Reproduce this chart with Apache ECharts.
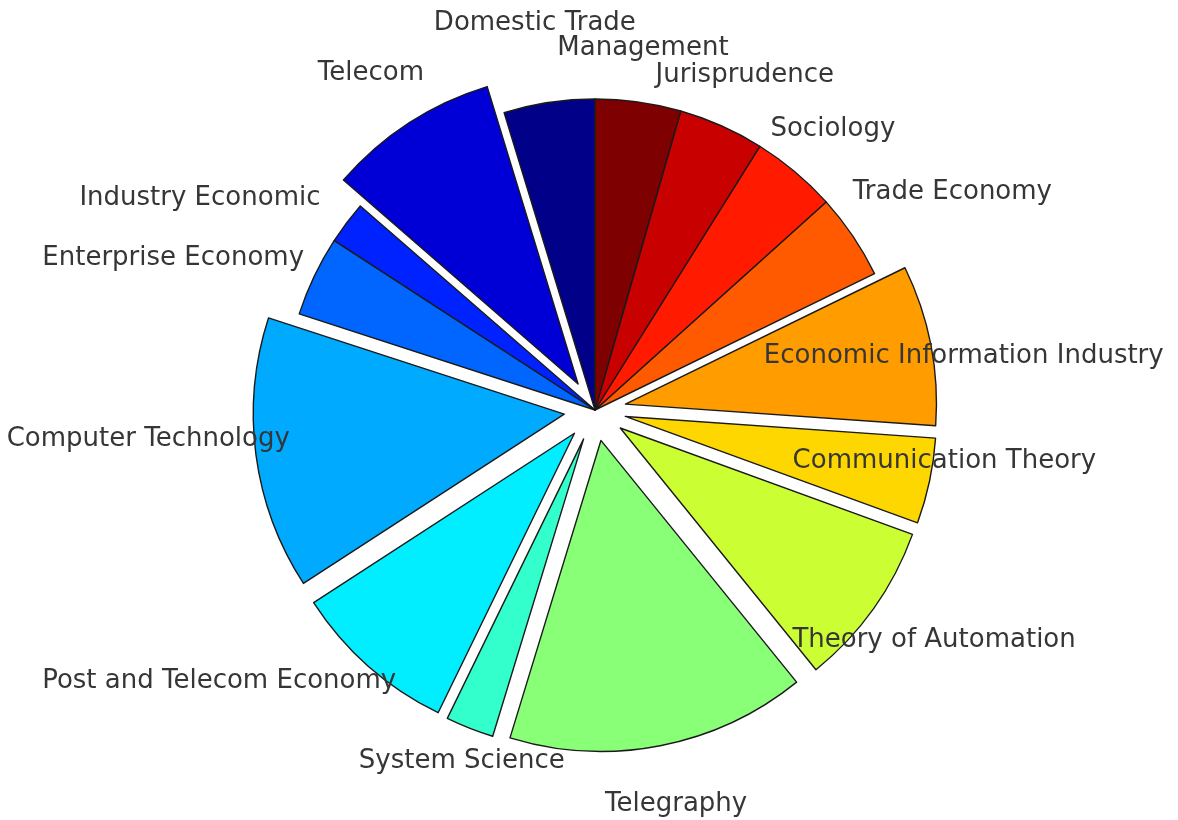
<!DOCTYPE html>
<html><head><meta charset="utf-8">
<script src="https://cdn.jsdelivr.net/npm/echarts@6/dist/echarts.min.js"></script>
<style>html,body{margin:0;padding:0;background:#fff}#c{width:1178px;height:820px}</style>
</head><body><div id="c"></div>
<script>
// Data listed counter-clockwise from 12 o'clock (MATLAB pie order)
const categories = ['Domestic Trade','Telecom','Industry Economic','Enterprise Economy','Computer Technology','Post and Telecom Economy','System Science','Telegraphy','Theory of Automation','Communication Theory','Economic Information Industry','Trade Economy','Sociology','Jurisprudence','Management'];
const values = [17,32,8,15,51,31,9,56,31,16,30,16,16,16,16];
const exploded = [0,1,0,0,1,1,1,1,1,1,1,0,0,0,0];
const colors = ['#000088','#0000D6','#0022FF','#0066FF','#00AAFF','#00EEFF','#33FFCC','#88FF77','#CCFF33','#FFD700','#FF9C00','#FF5A00','#FF1A00','#C80000','#7F0000'];
// label nudges (px) from the default MATLAB placement (1.2R from slice centre)
const labelNudge = [[-5,-18],[-4,2],[-97,13],[-85,9],[-46,-24],[-108,-31],[15,-25],[4,-3],[10,-4],[-46,-33],[-28,23],[48,-9],[-2,5],[-2,6],[-4,8]];

const CX = 595, CY = 410, R = 311, OFF = 31;
const total = values.reduce((a,b)=>a+b,0);
const starts = []; let acc = 0;
values.forEach(v => { starts.push(acc); acc += v; });

const chart = echarts.init(document.getElementById('c'), null, {renderer:'canvas'});
chart.setOption({
  backgroundColor:'#ffffff',
  animation:false,
  series:[{
    type:'pie',
    center:[CX, CY],
    radius:R,
    startAngle:90,
    clockwise:false,
    selectedMode:'multiple',
    selectedOffset:OFF,
    avoidLabelOverlap:false,
    emphasis:{disabled:true},
    silent:true,
    itemStyle:{borderColor:'#1a1a1a', borderWidth:1.4},
    label:{show:false},
    labelLine:{show:false},
    data: categories.map((n,i)=>({
      name:n, value:values[i], selected: !!exploded[i],
      itemStyle:{color:colors[i]},
      select:{itemStyle:{color:colors[i], borderColor:'#1a1a1a', borderWidth:1.4}}
    }))
  },{
    // transparent twin carrying the text labels
    type:'pie',
    center:[CX, CY],
    radius:R,
    startAngle:90,
    clockwise:false,
    selectedMode:false,
    avoidLabelOverlap:false,
    emphasis:{disabled:true},
    silent:true,
    z:5,
    itemStyle:{color:'rgba(0,0,0,0)', borderWidth:0},
    label:{show:true, position:'outside', color:'#363636', fontFamily:'DejaVu Sans', fontSize:26},
    labelLine:{show:false},
    labelLayout:function(p){
      const i = p.dataIndex;
      const mid = (starts[i] + values[i]/2) / total * 2 * Math.PI;
      const d = 1.2*R + (exploded[i] ? OFF : 0);
      return {
        x: CX - d*Math.sin(mid) + labelNudge[i][0],
        y: CY - d*Math.cos(mid) + labelNudge[i][1],
        align:'center', verticalAlign:'middle'
      };
    },
    data: categories.map((n,i)=>({name:n, value:values[i]}))
  }]
});
</script></body></html>
